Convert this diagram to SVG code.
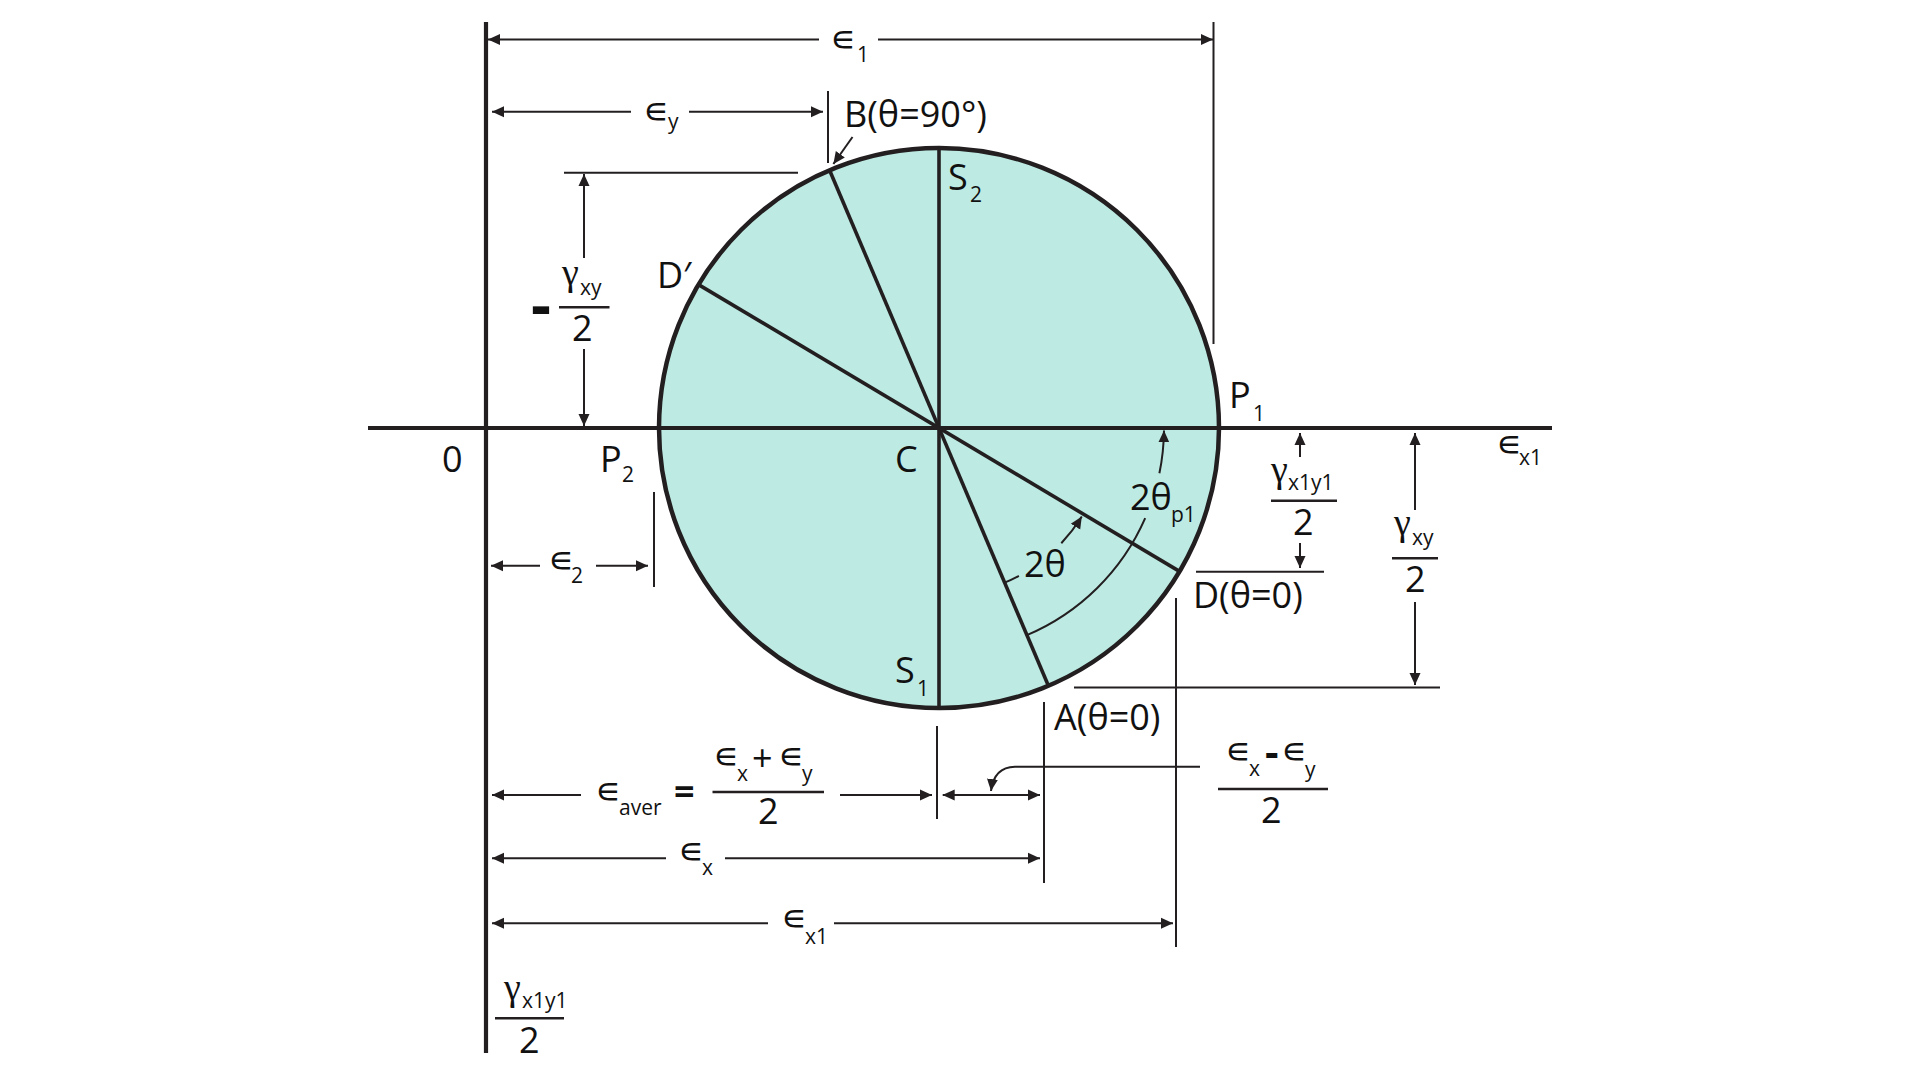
<svg xmlns="http://www.w3.org/2000/svg" width="1920" height="1080" viewBox="0 0 1920 1080">
<defs>
<marker id="ah" markerUnits="userSpaceOnUse" markerWidth="12" markerHeight="12" viewBox="0 0 12 12" refX="12" refY="6" orient="auto-start-reverse">
<path d="M0,0.5 L12,6 L0,11.5 z" fill="#231f20"/>
</marker>
</defs>
<style>
text{font-family:"Open Sans","DejaVu Sans",sans-serif;fill:#111;}
.t{font-size:36px;}
.s{font-size:21px;}
.b{font-weight:bold;}
.g{font-family:"Liberation Serif","DejaVu Serif",serif;font-size:38px;}
.thin{stroke:#231f20;stroke-width:2;fill:none;}
.ax{stroke:#231f20;stroke-width:4.2;fill:none;}
.rad{stroke:#231f20;stroke-width:3.6;fill:none;}
.bar{stroke:#231f20;stroke-width:2.6;}
.arr{marker-end:url(#ah);}
.arr2{marker-start:url(#ah);marker-end:url(#ah);}
.arrs{marker-start:url(#ah);}
</style>
<rect width="1920" height="1080" fill="#ffffff"/>

<g id="mohr-circle">
<circle cx="939" cy="428" r="280" fill="#bdebe3" stroke="#231f20" stroke-width="4.5"/>
<line class="rad" x1="939" y1="148" x2="939" y2="708"/>
<line class="rad" x1="829.6" y1="170.3" x2="1048.4" y2="685.7"/>
<line class="rad" x1="698.5" y1="284.6" x2="1179.5" y2="571.4"/>
</g>

<g id="axes">
<line class="ax" x1="368" y1="428" x2="1552" y2="428"/>
<line class="ax" x1="486" y1="22" x2="486" y2="1053"/>
</g>

<g id="connectors">
<line class="thin arrs" x1="488" y1="39.5" x2="819" y2="39.5"/>
<line class="thin arr" x1="878" y1="39.5" x2="1213" y2="39.5"/>
<line class="thin" x1="1213.5" y1="22" x2="1213.5" y2="344"/>
<line class="thin arrs" x1="492" y1="111.7" x2="631" y2="111.7"/>
<line class="thin arr" x1="689" y1="111.7" x2="823" y2="111.7"/>
<line class="thin" x1="828" y1="91" x2="828" y2="163"/>
<line class="thin arr" x1="852.5" y1="137" x2="833.4" y2="164"/>
<line class="thin" x1="564" y1="172.7" x2="798" y2="172.7"/>
<line class="thin arr" x1="584" y1="258" x2="584" y2="174"/>
<line class="thin arr" x1="584" y1="349" x2="584" y2="426"/>
<line class="thin arrs" x1="491" y1="565.7" x2="540" y2="565.7"/>
<line class="thin arr" x1="596" y1="565.7" x2="648" y2="565.7"/>
<line class="thin" x1="654" y1="492" x2="654" y2="587"/>
<path class="thin" d="M1026.9,635.1 A225,225 0 0 0 1145.2,518.1"/>
<path class="thin arr" d="M1159.4,473.2 A225,225 0 0 0 1164,430.4"/>
<path class="thin" d="M1004.6,582.6 A168,168 0 0 0 1018.9,575.8"/>
<path class="thin arr" d="M1061.3,543.2 A168,168 0 0 0 1081.8,516.5"/>
<line class="thin arr" x1="1300" y1="457" x2="1300" y2="433"/>
<line class="thin arr" x1="1300" y1="543" x2="1300" y2="568"/>
<line class="thin" x1="1196" y1="571.7" x2="1324" y2="571.7"/>
<line class="thin arr" x1="1415" y1="510" x2="1415" y2="433"/>
<line class="thin arr" x1="1415" y1="602" x2="1415" y2="685"/>
<line class="thin" x1="1074" y1="687.5" x2="1440" y2="687.5"/>
<line class="thin" x1="1176" y1="598" x2="1176" y2="947"/>
<line class="thin" x1="1044" y1="702" x2="1044" y2="883"/>
<line class="thin" x1="937" y1="726" x2="937" y2="819"/>
<line class="thin arrs" x1="492" y1="795" x2="581" y2="795"/>
<line class="thin arr" x1="840" y1="795" x2="932" y2="795"/>
<line class="thin arr2" x1="942.7" y1="795" x2="1040" y2="795"/>
<path class="thin arr" d="M1200,766.7 L1015,766.7 Q994,767 991,791"/>
<line class="thin arrs" x1="492" y1="858.3" x2="666" y2="858.3"/>
<line class="thin arr" x1="725" y1="858.3" x2="1040" y2="858.3"/>
<line class="thin arrs" x1="492" y1="923.3" x2="768" y2="923.3"/>
<line class="thin arr" x1="834" y1="923.3" x2="1173" y2="923.3"/>
<line class="bar" x1="559" y1="307.3" x2="609.5" y2="307.3"/>
<line class="bar" x1="1271" y1="500.7" x2="1337" y2="500.7"/>
<line class="bar" x1="1392" y1="558.3" x2="1438" y2="558.3"/>
<line class="bar" x1="712.5" y1="792" x2="824" y2="792"/>
<line class="bar" x1="1218" y1="789" x2="1328" y2="789"/>
<line class="bar" x1="495" y1="1018.3" x2="564" y2="1018.3"/>
</g>

<g id="label-e1"><text class="t" x="830" y="51">∊</text><text class="s" x="857" y="62">1</text></g>
<g id="label-ey"><text class="t" x="643" y="123">∊</text><text class="s" x="668" y="129">y</text></g>
<g id="label-B"><text class="t" x="844" y="127">B(θ=90°)</text></g>
<g id="label-S2"><text class="t" x="948" y="190">S</text><text class="s" x="970" y="202">2</text></g>
<g id="label-Dprime"><text class="t" x="657" y="288">D′</text></g>
<g id="label-neg-gxy">
<text class="b" x="531" y="327" font-size="62">-</text>
<text class="g" x="562" y="285">γ</text><text class="s" x="580" y="295">xy</text>
<text class="t" x="572" y="341">2</text>
</g>
<g id="label-0"><text class="t" x="442" y="472">0</text></g>
<g id="label-P2"><text class="t" x="600" y="472">P</text><text class="s" x="622" y="482">2</text></g>
<g id="label-C"><text class="t" x="895" y="472">C</text></g>
<g id="label-P1"><text class="t" x="1229" y="408">P</text><text class="s" x="1253" y="421">1</text></g>
<g id="label-ex1-axis"><text class="t" x="1496" y="456">∊</text><text class="s" x="1519" y="465">x1</text></g>
<g id="label-2thetap1"><text class="t" x="1130" y="510">2θ</text><text class="s" x="1171" y="522">p1</text></g>
<g id="label-2theta"><text class="t" x="1024" y="577">2θ</text></g>
<g id="label-gx1y1-right">
<text class="g" x="1271" y="482">γ</text><text class="s" x="1288" y="490">x1y1</text>
<text class="t" x="1293" y="535">2</text>
</g>
<g id="label-D"><text class="t" x="1193" y="608">D(θ=0)</text></g>
<g id="label-gxy-right">
<text class="g" x="1394" y="535">γ</text><text class="s" x="1412" y="545">xy</text>
<text class="t" x="1405" y="592">2</text>
</g>
<g id="label-S1"><text class="t" x="895" y="683">S</text><text class="s" x="917" y="696">1</text></g>
<g id="label-A"><text class="t" x="1054" y="730">A(θ=0)</text></g>
<g id="label-eaver">
<text class="t" x="595" y="803">∊</text><text class="s" x="619" y="815">aver</text>
<text class="t b" x="674" y="804">=</text>
<text class="t" x="713" y="768">∊</text><text class="s" x="737" y="781">x</text>
<text class="t" x="752" y="771" font-size="42">+</text>
<text class="t" x="778" y="768">∊</text><text class="s" x="802" y="781">y</text>
<text class="t" x="758" y="824">2</text>
</g>
<g id="label-ex-ey">
<text class="t" x="1225" y="763">∊</text><text class="s" x="1249" y="776">x</text>
<text class="b" x="1265" y="767" font-size="42">-</text>
<text class="t" x="1281" y="763">∊</text><text class="s" x="1305" y="777">y</text>
<text class="t" x="1261" y="823">2</text>
</g>
<g id="label-ex"><text class="t" x="678" y="863">∊</text><text class="s" x="702" y="875">x</text></g>
<g id="label-ex1"><text class="t" x="781" y="930">∊</text><text class="s" x="805" y="944">x1</text></g>
<g id="label-e2"><text class="t" x="548" y="572">∊</text><text class="s" x="571" y="583">2</text></g>
<g id="label-gx1y1-left">
<text class="g" x="504" y="1000">γ</text><text class="s" x="522" y="1008">x1y1</text>
<text class="t" x="519" y="1053">2</text>
</g>
</svg>
